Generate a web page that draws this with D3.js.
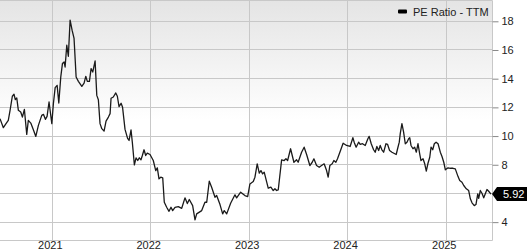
<!DOCTYPE html>
<html>
<head>
<meta charset="utf-8">
<script src="https://cdn.jsdelivr.net/npm/d3@7"></script>
<style>
  body { margin: 0; background: #fff; }
  svg { display: block; font-family: "Liberation Sans", Arial, sans-serif; }
</style>
</head>
<body>
<script>
// dates as decimal years, PE ratio
var years = [
  2020.475, 2020.509, 2020.536, 2020.559, 2020.577, 2020.600, 2020.617, 2020.630, 2020.645, 2020.661,
  2020.685, 2020.702, 2020.722, 2020.746, 2020.762, 2020.787, 2020.813, 2020.838, 2020.864, 2020.898,
  2020.915, 2020.935, 2020.952, 2020.972, 2021.000, 2021.016, 2021.034, 2021.054, 2021.071, 2021.091,
  2021.108, 2021.125, 2021.135, 2021.152, 2021.168, 2021.186, 2021.206, 2021.226, 2021.247, 2021.270,
  2021.305, 2021.328, 2021.345, 2021.361, 2021.382, 2021.399, 2021.416, 2021.440, 2021.457, 2021.473,
  2021.490, 2021.508, 2021.531, 2021.551, 2021.575, 2021.592, 2021.602, 2021.625, 2021.650, 2021.666,
  2021.683, 2021.704, 2021.719, 2021.744, 2021.770, 2021.785, 2021.805, 2021.818, 2021.839, 2021.856,
  2021.873, 2021.889, 2021.906, 2021.920, 2021.937, 2021.954, 2021.970, 2021.998, 2022.031, 2022.056,
  2022.072, 2022.089, 2022.107, 2022.127, 2022.143, 2022.167, 2022.191, 2022.211, 2022.228, 2022.252,
  2022.285, 2022.320, 2022.353, 2022.377, 2022.397, 2022.431, 2022.455, 2022.472, 2022.523, 2022.556,
  2022.574, 2022.600, 2022.624, 2022.658, 2022.675, 2022.709, 2022.736, 2022.752, 2022.777, 2022.817,
  2022.861, 2022.878, 2022.919, 2022.962, 2022.990, 2023.013, 2023.047, 2023.064, 2023.087, 2023.108,
  2023.125, 2023.142, 2023.158, 2023.199, 2023.226, 2023.250, 2023.267, 2023.284, 2023.301, 2023.335,
  2023.361, 2023.379, 2023.396, 2023.426, 2023.460, 2023.487, 2023.503, 2023.538, 2023.564, 2023.589,
  2023.622, 2023.646, 2023.663, 2023.690, 2023.717, 2023.741, 2023.767, 2023.792, 2023.808, 2023.825,
  2023.849, 2023.866, 2023.886, 2023.903, 2023.927, 2023.960, 2023.995, 2024.031, 2024.059, 2024.072,
  2024.092, 2024.117, 2024.133, 2024.157, 2024.184, 2024.211, 2024.224, 2024.245, 2024.269, 2024.285,
  2024.302, 2024.320, 2024.336, 2024.353, 2024.371, 2024.394, 2024.411, 2024.431, 2024.455, 2024.498,
  2024.512, 2024.529, 2024.539, 2024.556, 2024.573, 2024.590, 2024.607, 2024.624, 2024.635, 2024.648,
  2024.668, 2024.685, 2024.702, 2024.719, 2024.736, 2024.749, 2024.770, 2024.787, 2024.803, 2024.820,
  2024.838, 2024.851, 2024.868, 2024.884, 2024.902, 2024.922, 2024.945, 2024.962, 2024.980, 2024.996,
  2025.023, 2025.047, 2025.074, 2025.097, 2025.125, 2025.142, 2025.165, 2025.183, 2025.209, 2025.233,
  2025.250, 2025.267, 2025.290, 2025.307, 2025.325, 2025.335, 2025.351, 2025.368, 2025.386, 2025.402,
  2025.419, 2025.436, 2025.460
]
var peRatio = [
  11.18, 10.55, 10.83, 11.06, 11.76, 12.74, 12.88, 12.50, 12.62, 11.76,
  11.64, 11.29, 11.83, 10.08, 11.06, 10.87, 10.41, 9.94, 10.71, 11.41,
  11.48, 11.13, 11.34, 12.34, 10.83, 12.22, 13.34, 13.50, 12.27, 14.08,
  15.02, 15.13, 14.78, 16.30, 15.53, 18.05, 17.35, 16.77, 14.08, 13.78,
  13.43, 13.66, 14.13, 13.78, 13.78, 14.67, 14.43, 15.20, 12.80, 12.50,
  10.83, 10.48, 10.31, 11.01, 11.29, 11.53, 12.60, 12.69, 12.97, 12.74,
  12.02, 12.25, 11.97, 10.43, 9.80, 9.66, 10.39, 9.54, 7.95, 8.45,
  8.26, 8.45, 8.31, 8.61, 9.01, 8.61, 8.77, 8.68, 8.26, 7.56,
  7.75, 6.98, 7.10, 7.05, 5.35, 5.00, 4.72, 5.00, 4.77, 5.00,
  5.05, 4.93, 5.66, 5.26, 5.54, 5.12, 4.12, 4.54, 4.77, 5.35,
  5.35, 6.82, 6.40, 5.70, 5.82, 5.19, 4.54, 4.77, 4.54, 5.28,
  5.87, 5.66, 6.05, 5.82, 5.75, 6.63, 6.80, 7.10, 8.03, 7.38,
  7.56, 7.33, 7.45, 6.33, 6.40, 6.17, 6.29, 6.17, 6.22, 8.31,
  8.26, 8.38, 8.26, 9.08, 8.14, 8.31, 8.14, 8.84, 9.19, 8.68,
  7.91, 8.14, 8.38, 7.91, 7.79, 7.91, 8.03, 7.56, 7.10, 7.91,
  8.03, 8.26, 8.14, 8.38, 8.84, 9.47, 9.31, 9.24, 9.85, 9.54,
  9.19, 9.54, 9.38, 9.43, 9.31, 9.78, 9.94, 9.43, 9.01, 8.84,
  9.24, 8.96, 9.31, 9.01, 8.84, 9.43, 9.38, 8.96, 8.84, 8.68,
  9.08, 9.54, 10.13, 10.83, 10.24, 9.43, 9.54, 9.78, 9.85, 9.31,
  9.08, 9.19, 8.84, 9.43, 8.73, 8.26, 8.38, 8.03, 7.52, 8.07,
  8.49, 9.19, 9.01, 9.43, 9.54, 9.43, 8.84, 8.54, 8.14, 7.61,
  7.75, 7.72, 7.72, 7.68, 7.14, 6.87, 6.75, 6.52, 6.29, 6.17,
  5.59, 5.31, 5.12, 5.19, 5.94, 5.63, 6.17, 5.98, 5.66, 5.94,
  6.24, 6.12, 5.92
]
var yTicks = [4, 6, 8, 10, 12, 14, 16, 18]
var xTickYears = [2021, 2022, 2023, 2024, 2025]
var seriesName = 'PE Ratio - TTM'
var lastLabel = '5.92'

function yearToDate(t) {
    var y = Math.floor(t)
    var a = Date.UTC(y, 0, 1), b = Date.UTC(y + 1, 0, 1)
    return new Date(a + (t - y) * (b - a))
}

var data = years.map(function(t, i) { return { date: yearToDate(t), value: peRatio[i] } })

var width = 527
var height = 250
var plotW = 492
var plotH = 240

var x = d3.scaleUtc()
    .domain([yearToDate(2020.475), yearToDate(2025.470)])
    .range([0, plotW])

var y = d3.scaleLinear()
    .domain([2.72, 19.45])
    .range([plotH, 0])

var last = data[data.length - 1]
var ly = y(last.value)

var svg = d3.select('body').append('svg')
    .attr('width', width)
    .attr('height', height)

var defs = svg.append('defs')
var grad = defs.append('linearGradient')
    .attr('id', 'bg')
    .attr('x1', 0).attr('y1', 0).attr('x2', 0).attr('y2', 1)
grad.append('stop').attr('offset', '0%').attr('stop-color', '#e4e4e4')
grad.append('stop').attr('offset', '50%').attr('stop-color', '#ffffff')
grad.append('stop').attr('offset', '100%').attr('stop-color', '#ffffff')

svg.append('rect')
    .attr('x', 0).attr('y', 0)
    .attr('width', plotW).attr('height', plotH)
    .style('fill', 'url(#bg)')

// grid
svg.append('g')
    .attr('class', 'grid-y')
    .selectAll('line')
    .data(yTicks)
    .enter().append('line')
    .attr('x1', 0)
    .attr('x2', plotW)
    .attr('y1', function(d) { return Math.round(y(d)) + 0.5 })
    .attr('y2', function(d) { return Math.round(y(d)) + 0.5 })
    .style('stroke', '#c8c8c8')
    .style('stroke-width', 1)

svg.append('g')
    .attr('class', 'grid-x')
    .selectAll('line')
    .data(xTickYears)
    .enter().append('line')
    .attr('x1', function(d) { return Math.round(x(yearToDate(d))) + 0.5 })
    .attr('x2', function(d) { return Math.round(x(yearToDate(d))) + 0.5 })
    .attr('y1', 0)
    .attr('y2', plotH)
    .style('stroke', '#c8c8c8')
    .style('stroke-width', 1)

// frame
svg.append('path')
    .attr('d', 'M0,0.5H' + (plotW + 0.5) + 'V' + (plotH + 0.5) + 'H0')
    .style('fill', 'none')
    .style('stroke', '#c8c8c8')

var yAxis = d3.axisRight(y)
    .tickValues(yTicks)
    .tickSize(6)
    .tickPadding(3)
    .tickFormat(d3.format('d'))

svg.append('g')
    .attr('class', 'y-axis')
    .attr('transform', 'translate(' + (plotW + 0.5) + ',0.5)')
    .call(yAxis)
    .call(function(g) { g.select('.domain').remove() })
    .call(function(g) {
        g.selectAll('.tick line').style('stroke', '#888')
        g.selectAll('.tick text')
            .style('font-size', '11px')
            .style('fill', '#222')
            .style('font-family', '"Liberation Sans", Arial, sans-serif')
        // the last-value tag sits over this label
        g.selectAll('.tick')
            .filter(function(d) { return Math.abs(y(d) - ly) < 12 })
            .remove()
    })

var xAxis = d3.axisBottom(x)
    .tickValues(xTickYears.map(yearToDate))
    .tickSize(0)
    .tickPadding(1)
    .tickFormat(d3.utcFormat('%Y'))

svg.append('g')
    .attr('class', 'x-axis')
    .attr('transform', 'translate(-2,' + plotH + ')')
    .call(xAxis)
    .call(function(g) { g.select('.domain').remove() })
    .call(function(g) {
        g.selectAll('.tick text')
            .style('font-size', '11px')
            .style('fill', '#222')
            .style('font-family', '"Liberation Sans", Arial, sans-serif')
    })

// the series
var line = d3.line()
    .x(function(d) { return x(d.date) })
    .y(function(d) { return y(d.value) })

svg.append('path')
    .datum(data)
    .attr('d', line)
    .style('fill', 'none')
    .style('stroke', '#1a1a1a')
    .style('stroke-width', 1.3)
    .style('stroke-linejoin', 'round')

// last value tag
svg.append('path')
    .attr('d', 'M' + plotW + ',' + ly + 'L' + (plotW + 5) + ',' + (ly - 7) +
        'H' + width + 'V' + (ly + 7) + 'H' + (plotW + 5) + 'Z')
    .style('fill', '#000')

svg.append('text')
    .attr('x', plotW + 11)
    .attr('y', ly)
    .attr('dy', '0.36em')
    .style('font-size', '11px')
    .style('fill', '#fff')
    .text(lastLabel)

// legend
svg.append('rect')
    .attr('x', 398)
    .attr('y', 9.5)
    .attr('width', 9)
    .attr('height', 4)
    .attr('rx', 1)
    .style('fill', '#000')

svg.append('text')
    .attr('x', 413)
    .attr('y', 12)
    .attr('dy', '0.36em')
    .style('font-size', '11px')
    .style('fill', '#222')
    .text(seriesName)
</script>
</body>
</html>
